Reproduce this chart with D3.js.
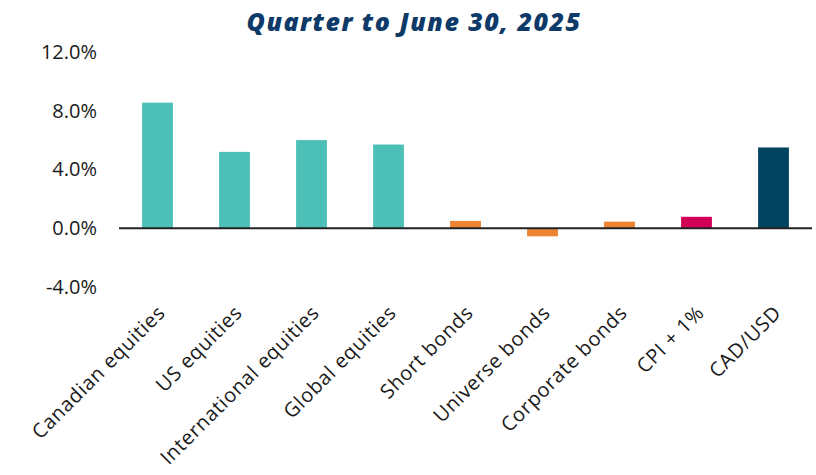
<!DOCTYPE html>
<html>
<head>
<meta charset="utf-8">
<script src="https://cdn.jsdelivr.net/npm/d3@7"></script>
<style>
  body { margin: 0; background: #fff; }
  svg { font-family: "Open Sans", "Noto Sans", sans-serif; }
</style>
</head>
<body>
<svg width="816" height="475"></svg>
<script>
// data
let categories = ["Canadian equities", "US equities", "International equities", "Global equities",
  "Short bonds", "Universe bonds", "Corporate bonds", "CPI + 1%", "CAD/USD"];
let returns = [8.55, 5.2, 6.0, 5.7, 0.5, -0.55, 0.45, 0.78, 5.5];
let groups = ["equity", "equity", "equity", "equity", "bond", "bond", "bond", "cpi", "fx"];
let yTicks = [-4, 0, 4, 8, 12];

let svg = d3.select("svg");

let color = d3.scaleOrdinal()
  .domain(["equity", "bond", "cpi", "fx"])
  .range(["#4cc0b7", "#ec8434", "#d10056", "#00445f"]);

let x = d3.scaleBand()
  .domain(categories)
  .range([119, 812])
  .paddingInner(0.6)
  .paddingOuter(0.3);

let y = d3.scaleLinear()
  .domain([-4, 12])
  .range([287, 52]);

svg.append("text")
  .attr("x", 414)
  .attr("y", 31)
  .attr("text-anchor", "middle")
  .attr("fill", "#0d3a68")
  .attr("font-size", 25)
  .attr("font-weight", 800)
  .attr("font-style", "italic")
  .attr("letter-spacing", 1.5)
  .text("Quarter to June 30, 2025");

// y axis: labels only
let yAxis = svg.append("g")
  .attr("transform", "translate(97,0)")
  .call(d3.axisLeft(y)
    .tickValues(yTicks)
    .tickSize(0)
    .tickPadding(0)
    .tickFormat(d => d.toFixed(1) + "%"));
yAxis.select(".domain").remove();
yAxis.selectAll("text")
  .attr("font-size", 20)
  .attr("font-family", "'Open Sans', sans-serif")
  .attr("fill", "#1a1a1a");

svg.append("g")
  .selectAll("rect")
  .data(categories)
  .enter().append("rect")
    .attr("x", d => x(d))
    .attr("width", x.bandwidth())
    .attr("y", (d, i) => y(Math.max(0, returns[i])))
    .attr("height", (d, i) => Math.abs(y(returns[i]) - y(0)))
    .attr("fill", (d, i) => color(groups[i]));

// zero line
svg.append("line")
  .attr("x1", x.range()[0])
  .attr("x2", x.range()[1])
  .attr("y1", y(0))
  .attr("y2", y(0))
  .attr("stroke", "#222")
  .attr("stroke-width", 2);

// rotated category labels
svg.append("g")
  .selectAll("text")
  .data(categories)
  .enter().append("text")
    .attr("transform", d => `translate(${x(d) + x.bandwidth() / 2 + 9},314) rotate(-45)`)
    .attr("text-anchor", "end")
    .attr("font-size", 20)
    .attr("letter-spacing", 0.7)
    .attr("fill", "#1a1a1a")
    .text(d => d);
</script>
</body>
</html>
